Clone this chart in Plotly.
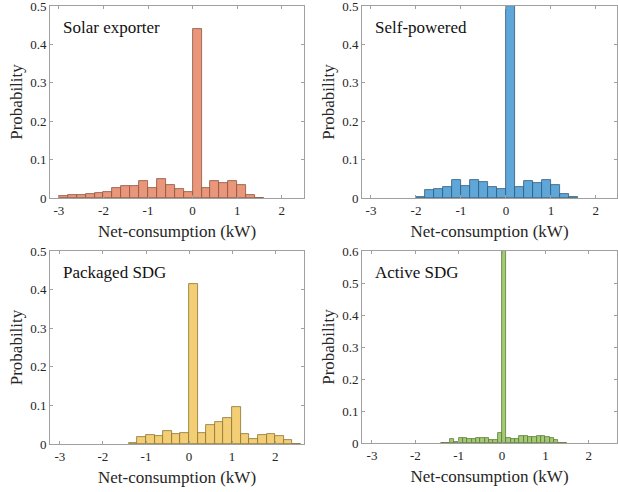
import plotly.graph_objects as go

# ---- data (bin left edges in kW, probabilities) ----
solar_edges = [-3.0, -2.8, -2.6, -2.4, -2.2, -2.0, -1.8, -1.6, -1.4, -1.2, -1.0, -0.8, -0.6, -0.4, -0.2,
               0.0, 0.2, 0.4, 0.6, 0.8, 1.0, 1.2, 1.4]
solar_prob = [0.005, 0.008, 0.008, 0.010, 0.013, 0.016, 0.026, 0.030, 0.031, 0.043, 0.026, 0.050, 0.034, 0.023, 0.015,
              0.439, 0.026, 0.043, 0.039, 0.045, 0.034, 0.008, 0.001]

self_edges = [-2.0, -1.8, -1.6, -1.4, -1.2, -1.0, -0.8, -0.6, -0.4, -0.2,
              0.0, 0.2, 0.4, 0.6, 0.8, 1.0, 1.2, 1.4]
self_prob = [0.002, 0.022, 0.024, 0.029, 0.048, 0.032, 0.047, 0.042, 0.029, 0.024,
             0.500, 0.029, 0.044, 0.040, 0.047, 0.035, 0.011, 0.003]

pack_edges = [-1.4, -1.2, -1.0, -0.8, -0.6, -0.4, -0.2, 0.0, 0.2, 0.4, 0.6, 0.8, 1.0,
              1.2, 1.4, 1.6, 1.8, 2.0, 2.2, 2.4]
pack_prob = [0.003, 0.018, 0.023, 0.021, 0.033, 0.026, 0.029, 0.415, 0.029, 0.048, 0.057, 0.068, 0.095,
             0.026, 0.012, 0.023, 0.026, 0.020, 0.010, 0.001]

active_edges = [-1.4, -1.3, -1.2, -1.1, -1.0, -0.9, -0.8, -0.7, -0.6, -0.5, -0.4, -0.3, -0.2, -0.1,
                0.0, 0.1, 0.2, 0.3, 0.4, 0.5, 0.6, 0.7, 0.8, 0.9, 1.0, 1.1, 1.2, 1.3, 1.4]
active_prob = [0.001, 0.001, 0.0125, 0.004, 0.015, 0.015, 0.013, 0.013, 0.016, 0.016, 0.016, 0.010, 0.010, 0.031,
               0.650, 0.016, 0.014, 0.014, 0.021, 0.022, 0.019, 0.019, 0.022, 0.023, 0.019, 0.016, 0.008, 0.001, 0.001]

panel_names = ["Solar exporter", "Self-powered", "Packaged SDG", "Active SDG"]
x_ticks = [-3, -2, -1, 0, 1, 2]

# ---- styling / layout ----
FONT = "Liberation Serif, Times New Roman, serif"
W, H = 618, 492
panels = [
    dict(edges=solar_edges, prob=solar_prob, width=0.2, fill="#E9967A", edge="#8a5440",
         px=(50, 304), py=(6, 198), xr=[-3.2, 2.5], yr=[0, 0.5]),
    dict(edges=self_edges, prob=self_prob, width=0.2, fill="#5FA7D9", edge="#2f5b7a",
         px=(362, 617), py=(6, 198), xr=[-3.2, 2.47], yr=[0, 0.5]),
    dict(edges=pack_edges, prob=pack_prob, width=0.2, fill="#F3CE74", edge="#8a7434",
         px=(50, 304), py=(251, 444), xr=[-3.23, 2.67], yr=[0, 0.5]),
    dict(edges=active_edges, prob=active_prob, width=0.1, fill="#A3CB72", edge="#5a7a3a",
         px=(362, 617), py=(251, 443), xr=[-3.23, 2.65], yr=[0, 0.6]),
]

fig = go.Figure()
layout = dict(
    width=W, height=H, margin=dict(l=0, r=0, t=0, b=0, autoexpand=False),
    paper_bgcolor="white", plot_bgcolor="white", showlegend=False,
    font=dict(family=FONT, size=13, color="#262626"),
    bargap=0,
)
annotations = []
for i, p in enumerate(panels):
    n = i + 1
    xa = "x" if n == 1 else f"x{n}"
    ya = "y" if n == 1 else f"y{n}"
    fig.add_trace(go.Bar(
        x=p["edges"], y=p["prob"], width=p["width"], offset=0,
        marker=dict(color=p["fill"], line=dict(color=p["edge"], width=0.8)),
        xaxis=xa, yaxis=ya, hoverinfo="x+y",
    ))
    axis_common = dict(
        showline=True, linecolor="#a0a0a0", linewidth=1, mirror="allticks",
        ticks="inside", ticklen=3, tickcolor="#a0a0a0", tickwidth=1,
        showgrid=False, zeroline=False, automargin=False, ticklabeloverflow="allow",
        tickfont=dict(family=FONT, size=13, color="#262626"),
    )
    layout["xaxis" if n == 1 else f"xaxis{n}"] = dict(
        axis_common, domain=[p["px"][0] / W, p["px"][1] / W], range=p["xr"],
        tickvals=x_ticks, ticktext=[("-" + str(-t)) if t < 0 else str(t) for t in x_ticks],
        anchor=ya,
        title=dict(text="Net-consumption (kW)", font=dict(family=FONT, size=17, color="#262626"), standoff=8),
    )
    yt = [round(0.1 * k, 1) for k in range(int(round(p["yr"][1] * 10)) + 1)]
    layout["yaxis" if n == 1 else f"yaxis{n}"] = dict(
        axis_common, domain=[1 - p["py"][1] / H, 1 - p["py"][0] / H], range=p["yr"],
        tickvals=yt, ticktext=["0" if v == 0 else str(v) for v in yt],
        anchor=xa,
        title=dict(text="Probability", font=dict(family=FONT, size=17, color="#262626"), standoff=3),
    )
    annotations.append(dict(
        text=panel_names[i], xref="paper", yref="paper",
        x=(p["px"][0] + 11) / W, y=1 - (p["py"][0] + 21) / H,
        xanchor="left", yanchor="middle", showarrow=False,
        font=dict(family=FONT, size=17, color="#111111"),
    ))
layout["annotations"] = annotations
fig.update_layout(**layout)
fig.write_html("out.html", config={"displayModeBar": False},
               post_script="document.body.style.margin='0px';")
